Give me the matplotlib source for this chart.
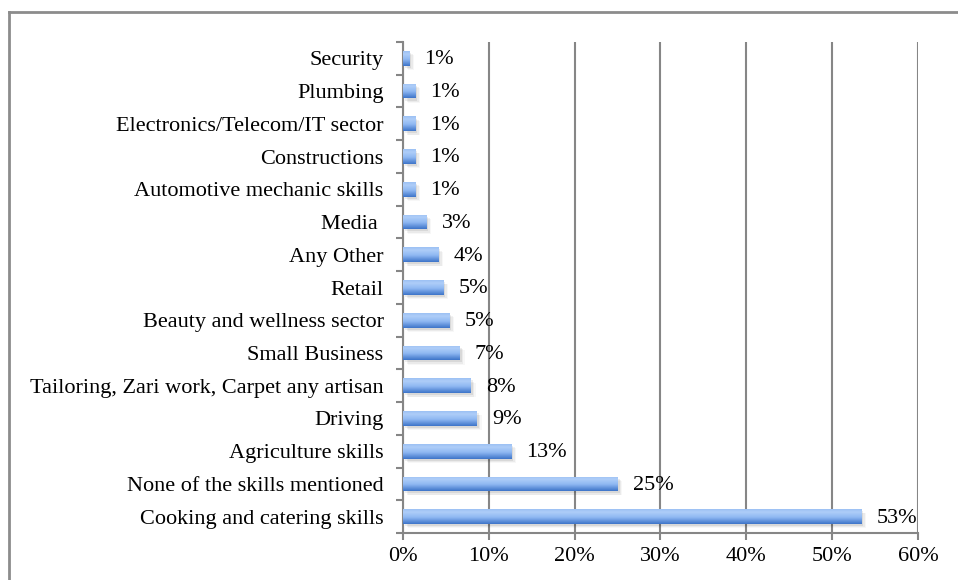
import matplotlib.pyplot as plt
import numpy as np
from matplotlib.colors import LinearSegmentedColormap
from matplotlib.lines import Line2D
from matplotlib.ticker import FuncFormatter
import matplotlib.transforms as mtransforms

skills = [
    'Cooking and catering skills',
    'None of the skills mentioned',
    'Agriculture skills',
    'Driving',
    'Tailoring, Zari work, Carpet any artisan',
    'Small Business',
    'Beauty and wellness sector',
    'Retail',
    'Any Other',
    'Media ',
    'Automotive mechanic skills',
    'Constructions',
    'Electronics/Telecom/IT sector',
    'Plumbing',
    'Security',
]
share = [0.534, 0.250, 0.126, 0.086, 0.079, 0.066, 0.054, 0.047, 0.041, 0.027,
         0.014, 0.014, 0.014, 0.014, 0.007]
x_ticks = [0, 0.1, 0.2, 0.3, 0.4, 0.5, 0.6]

plt.rcParams['font.family'] = ['Liberation Serif', 'DejaVu Serif']
grey = '#868686'
fs = 16

fig = plt.figure(figsize=(9.58, 5.8), dpi=100)
ax = fig.add_axes([0.4207, 0.081, 0.5375, 0.8466])

pos = np.arange(len(skills))
bars = ax.barh(pos, share, height=0.45, color='none', zorder=3)

# shading: a soft shadow under each bar, then a vertical blue gradient
blue = LinearSegmentedColormap.from_list(
    'bar', [(0, '#3e74c9'), (0.45, '#8fb8f2'), (0.8, '#aecdf8'), (1, '#9cc1f4')])
grad = np.linspace(0, 1, 64).reshape(-1, 1)
for dx, dy, a in [(1.5, -1.5, 0.07), (2.5, -2.5, 0.05), (3.5, -3.0, 0.03)]:
    off = mtransforms.offset_copy(ax.transData, fig=fig, x=dx, y=dy, units='points')
    for b in bars:
        ax.add_patch(plt.Rectangle((b.get_x(), b.get_y()), b.get_width(), b.get_height(),
                                   transform=off, color='#000000', alpha=a, lw=0, zorder=2))
for b in bars:
    x0, y0, w, h = b.get_x(), b.get_y(), b.get_width(), b.get_height()
    im = ax.imshow(grad, cmap=blue, aspect='auto', origin='lower',
                   extent=(x0, x0 + w, y0, y0 + h), zorder=3)
    im.set_clip_path(b)

for p, v in zip(pos, share):
    ax.annotate('{:.0%}'.format(v), (v, p), xytext=(11, -1), textcoords='offset points',
                va='center', ha='left', fontsize=fs)

ax.set_xlim(0, 0.6)
ax.set_ylim(-0.5, len(skills) - 0.5)
ax.set_xticks(x_ticks)
ax.xaxis.set_major_formatter(FuncFormatter(lambda v, _: '{:.0%}'.format(v)))
ax.set_yticks(pos)
ax.set_yticklabels(skills, fontsize=fs)
ax.set_yticks(np.arange(-0.5, len(skills), 1), minor=True)
ax.tick_params(axis='y', which='major', length=0, pad=14)
ax.tick_params(axis='y', which='minor', length=5, width=1.5, color=grey)
ax.tick_params(axis='x', length=5, width=1.5, color=grey, labelsize=fs, pad=5)

ax.grid(axis='x', color=grey, linewidth=1.5, zorder=0)
ax.set_axisbelow(True)
for side in ['top', 'right']:
    ax.spines[side].set_visible(False)
for side in ['left', 'bottom']:
    ax.spines[side].set_color(grey)
    ax.spines[side].set_linewidth(1.5)

# frame along the top and left of the chart area
fig.add_artist(Line2D([0.0089, 0.0089], [0, 0.979], color='#8c8c8c', lw=2))
fig.add_artist(Line2D([0.0089, 1], [0.979, 0.979], color='#8c8c8c', lw=2))

fig.savefig('out.png')
